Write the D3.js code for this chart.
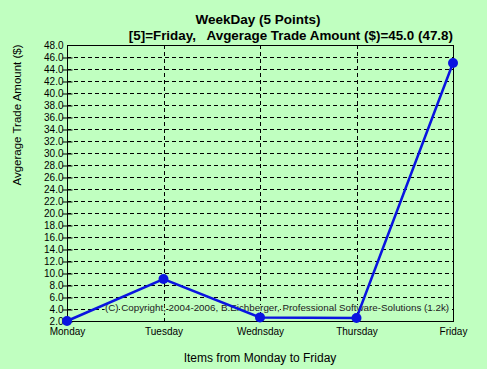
<!DOCTYPE html>
<html><head><meta charset="utf-8">
<script src="https://cdn.jsdelivr.net/npm/d3@7"></script>
<style>body{margin:0;background:#c0ffc0;} svg{display:block;}</style>
</head><body><svg id="c" width="487" height="369"></svg>
<script>
const categories = ["Monday","Tuesday","Wednsday","Thursday","Friday"];
const values = [2.0, 9.0, 2.6, 2.5, 45.0];
const yTicks = d3.range(2, 48.001, 2);
const title = "WeekDay (5 Points)";
const subtitle = "[5]=Friday,   Avgerage Trade Amount ($)=45.0 (47.8)";
const yLabel = "Avgerage Trade Amount ($)";
const xLabel = "Items from Monday to Friday";
const copyright = "(C) Copyright, 2004-2006, B.Eichberger, Professional Software-Solutions (1.2k)";

const svg = d3.select("#c");
svg.append("rect").attr("width",487).attr("height",369).attr("fill","#c0ffc0");
const L=67,R=453,T=45,B=321;
const x = d3.scalePoint().domain(categories).range([L,R]);
const y = d3.scaleLinear().domain([2,48]).range([B,T]);
const font = "Liberation Sans, Arial, sans-serif";

// horizontal grid
svg.append("g").selectAll("line").data(yTicks.filter(d=>d>2&&d<48)).join("line")
  .attr("x1",L).attr("x2",R).attr("y1",d=>y(d)+0.5).attr("y2",d=>y(d)+0.5)
  .attr("stroke","#000").attr("stroke-dasharray","4,3").attr("stroke-width",1);
// vertical grid
svg.append("g").selectAll("line").data(categories.slice(1,4)).join("line")
  .attr("x1",d=>Math.round(x(d))+0.5).attr("x2",d=>Math.round(x(d))+0.5).attr("y1",T).attr("y2",B+4)
  .attr("stroke","#000").attr("stroke-dasharray","4,3").attr("stroke-width",1);
// frame
svg.append("rect").attr("x",L+0.5).attr("y",T+0.5).attr("width",R-L).attr("height",B-T)
  .attr("fill","none").attr("stroke","#000").attr("stroke-width",1);

// y axis
const yAxis = d3.axisLeft(y).tickValues(yTicks).tickFormat(d3.format(".1f")).tickSize(5).tickSizeOuter(0);
const yg = svg.append("g").attr("transform",`translate(${L+0.5},0.5)`).call(yAxis);
yg.select(".domain").remove();
yg.selectAll(".tick line").attr("x2",-5).attr("x1",5).attr("stroke","#000");
yg.selectAll(".tick text").attr("font-family",font).attr("font-size",10).attr("fill","#000").attr("x",-4);
yg.selectAll(".tick").filter(d=>d===48).select("line").remove();
yg.selectAll(".tick").filter(d=>d===2).select("text").attr("dy","0.25em");

// x axis labels
const xg = svg.append("g").attr("transform",`translate(0,${B})`).call(d3.axisBottom(x).tickSize(0).tickPadding(7));
xg.select(".domain").remove();
xg.selectAll(".tick text").attr("font-family",font).attr("font-size",10).attr("fill","#000");

// copyright
svg.append("text").attr("x",(L+R)/2+17).attr("y",311).attr("text-anchor","middle")
  .attr("font-family",font).attr("font-size",9.8).attr("fill","#202020")
  .style("paint-order","stroke").attr("stroke","#c0ffc0").attr("stroke-width",2)
  .text(copyright);

// line
const line = d3.line().x((d,i)=>x(categories[i])).y(d=>y(d));
svg.append("path").datum(values).attr("d",line).attr("fill","none").attr("stroke","#0a14e0").attr("stroke-width",2.5);
svg.append("g").selectAll("circle").data(values).join("circle")
  .attr("cx",(d,i)=>x(categories[i])).attr("cy",d=>y(d)).attr("r",5).attr("fill","#0a14e0");

// titles
svg.append("text").attr("x",258).attr("y",24).attr("text-anchor","middle")
  .attr("font-family",font).attr("font-weight","bold").attr("font-size",13.5).text(title);
svg.append("text").attr("x",R).attr("y",40).attr("text-anchor","end")
  .attr("font-family",font).attr("font-weight","bold").attr("font-size",13.4)
  .style("white-space","pre").attr("xml:space","preserve").text(subtitle);
svg.append("text").attr("transform",`translate(21,115) rotate(-90)`).attr("text-anchor","middle")
  .attr("font-family",font).attr("font-size",11.5).text(yLabel);
svg.append("text").attr("x",260).attr("y",362).attr("text-anchor","middle")
  .attr("font-family",font).attr("font-size",12).text(xLabel);
</script></body></html>
